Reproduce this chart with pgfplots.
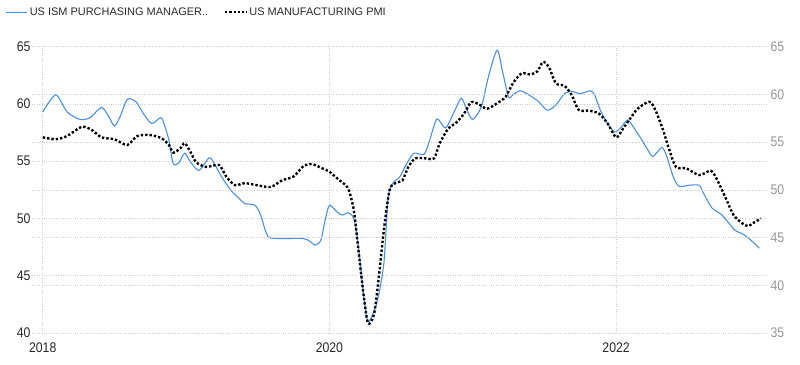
\documentclass[border=0pt]{standalone}
\usepackage{fontspec}
\setmainfont{Liberation Sans}
\newfontfamily\narrowfont[FakeStretch=0.88]{Liberation Sans}
\usepackage{pgfplots}
\usepackage{pgfplotstable}
\pgfplotsset{compat=1.18}
\definecolor{ismblue}{RGB}{74,144,226}
\definecolor{gridgray}{RGB}{205,205,205}
\definecolor{lefttxt}{RGB}{40,40,40}
\definecolor{righttxt}{RGB}{150,150,150}

\pgfplotstableread{
x y
2018.00 59.3
2018.09 60.8
2018.17 59.3
2018.26 58.65
2018.33 58.8
2018.41 59.7
2018.46 58.9
2018.50 58.07
2018.54 58.9
2018.59 60.4
2018.65 60.2
2018.70 59.2
2018.76 58.3
2018.82 58.8
2018.84 58.5
2018.88 56.85
2018.91 54.8
2018.95 54.86
2018.99 55.7
2019.03 54.95
2019.09 54.2
2019.16 55.3
2019.19 54.95
2019.25 53.6
2019.31 52.5
2019.37 51.75
2019.41 51.3
2019.48 51.16
2019.52 50.3
2019.56 48.7
2019.59 48.3
2019.70 48.25
2019.82 48.25
2019.87 47.95
2019.90 47.67
2019.94 48.1
2019.97 49.85
2020.00 51.16
2020.05 50.6
2020.09 50.3
2020.13 50.5
2020.17 50.0
2020.20 47.8
2020.24 43.15
2020.27 41.0
2020.33 42.6
2020.38 46.1
2020.41 51.9
2020.45 53.2
2020.49 53.6
2020.54 54.8
2020.59 55.7
2020.66 55.6
2020.70 56.85
2020.75 58.7
2020.81 57.9
2020.87 59.3
2020.92 60.5
2020.96 59.45
2021.00 58.65
2021.06 59.75
2021.11 62.4
2021.17 64.7
2021.21 62.7
2021.25 60.6
2021.28 60.8
2021.33 61.15
2021.39 60.8
2021.46 60.2
2021.52 59.45
2021.58 59.9
2021.64 60.9
2021.69 61.1
2021.75 60.9
2021.82 61.15
2021.85 60.8
2021.89 59.45
2021.94 58.3
2021.99 57.55
2022.03 57.9
2022.08 58.6
2022.12 58.0
2022.18 56.85
2022.25 55.45
2022.28 55.7
2022.32 56.2
2022.35 55.55
2022.40 53.6
2022.44 52.8
2022.51 52.9
2022.58 52.9
2022.61 52.2
2022.67 50.9
2022.73 50.4
2022.78 49.7
2022.83 48.97
2022.89 48.6
2022.95 48.0
2023.00 47.4
}\ismdata

\pgfplotstableread{
x y
2018.00 55.5
2018.09 55.3
2018.17 55.64
2018.27 56.6
2018.34 56.3
2018.41 55.5
2018.50 55.3
2018.59 54.7
2018.66 55.64
2018.75 55.74
2018.83 55.4
2018.88 54.7
2018.91 53.9
2018.96 54.35
2018.99 54.9
2019.03 53.99
2019.07 52.9
2019.14 52.4
2019.23 52.6
2019.28 51.4
2019.34 50.5
2019.41 50.7
2019.49 50.5
2019.59 50.3
2019.67 51.0
2019.75 51.4
2019.82 52.5
2019.88 52.7
2019.95 52.25
2020.00 51.9
2020.07 51.0
2020.13 50.16
2020.17 47.9
2020.20 44.0
2020.24 38.8
2020.27 36.0
2020.31 36.9
2020.34 40.2
2020.38 45.8
2020.42 49.98
2020.46 50.7
2020.51 51.0
2020.55 52.4
2020.60 53.3
2020.67 53.3
2020.73 53.3
2020.77 54.9
2020.83 56.45
2020.88 56.97
2020.94 58.0
2020.99 59.2
2021.05 58.9
2021.10 58.5
2021.17 59.07
2021.23 59.76
2021.28 61.16
2021.34 62.2
2021.40 62.1
2021.45 62.4
2021.49 63.4
2021.53 62.9
2021.58 61.16
2021.64 60.9
2021.69 59.94
2021.74 58.36
2021.81 58.3
2021.88 58.0
2021.94 56.97
2022.00 55.5
2022.05 56.45
2022.10 57.5
2022.15 58.5
2022.23 59.23
2022.27 58.5
2022.32 56.6
2022.38 53.8
2022.42 52.36
2022.49 52.25
2022.58 51.55
2022.66 52.0
2022.70 51.2
2022.76 49.3
2022.82 47.36
2022.88 46.5
2022.92 46.2
2022.96 46.55
2023.01 47.0
}\pmidata

\begin{document}
\begin{tikzpicture}[x=1bp,y=1bp]
\useasboundingbox (0,0) rectangle (800,364);
\pgfplotsset{
  base/.style={
    at={(32bp,31bp)}, anchor=south west,
    scale only axis, width=736bp, height=286.3bp,
    xmin=2017.925, xmax=2023.06,
    axis line style={draw=none},
    major tick length=0pt,
    grid style={gridgray, dotted, line width=0.6pt},
    /pgf/number format/assume math mode=true,
    /pgf/number format/1000 sep={},
    ticklabel style={font=\narrowfont\fontsize{14}{16}\selectfont},
  },
  legend image code/.code={\draw[#1] (0bp,0bp) -- (21bp,0bp);},
}
\begin{axis}[base,
  ymin=40, ymax=65, ytick={40,45,50,55,60,65},
  xtick={2018,2020,2022},
  xmajorgrids, ymajorgrids,
  yticklabel style={text=lefttxt, xshift=2bp},
  xticklabel style={text=lefttxt, yshift=-6bp},
  legend style={at={(-0.036,1.121)}, anchor=west, draw=none, fill=none,
    font=\fontsize{11}{12}\selectfont, text=lefttxt,
    legend columns=2, inner sep=0pt,
    /tikz/every even column/.append style={column sep=14bp}},
]
\addplot[ismblue, line width=1.1pt, smooth, tension=0.45] table[x=x,y=y] {\ismdata};
\addlegendentry{US ISM PURCHASING MANAGER..}
\addlegendimage{black, dotted, line width=2.2pt}
\addlegendentry{US MANUFACTURING PMI}
\end{axis}
\begin{axis}[base,
  ymin=35, ymax=65, ytick={35,40,45,50,55,60,65},
  axis y line*=right,
  xtick=\empty,
  ymajorgrids,
  yticklabel style={text=righttxt, xshift=-1bp},
]
\addplot[black, dotted, line width=2.4pt, smooth, tension=0.45] table[x=x,y=y] {\pmidata};
\end{axis}
\end{tikzpicture}
\end{document}
